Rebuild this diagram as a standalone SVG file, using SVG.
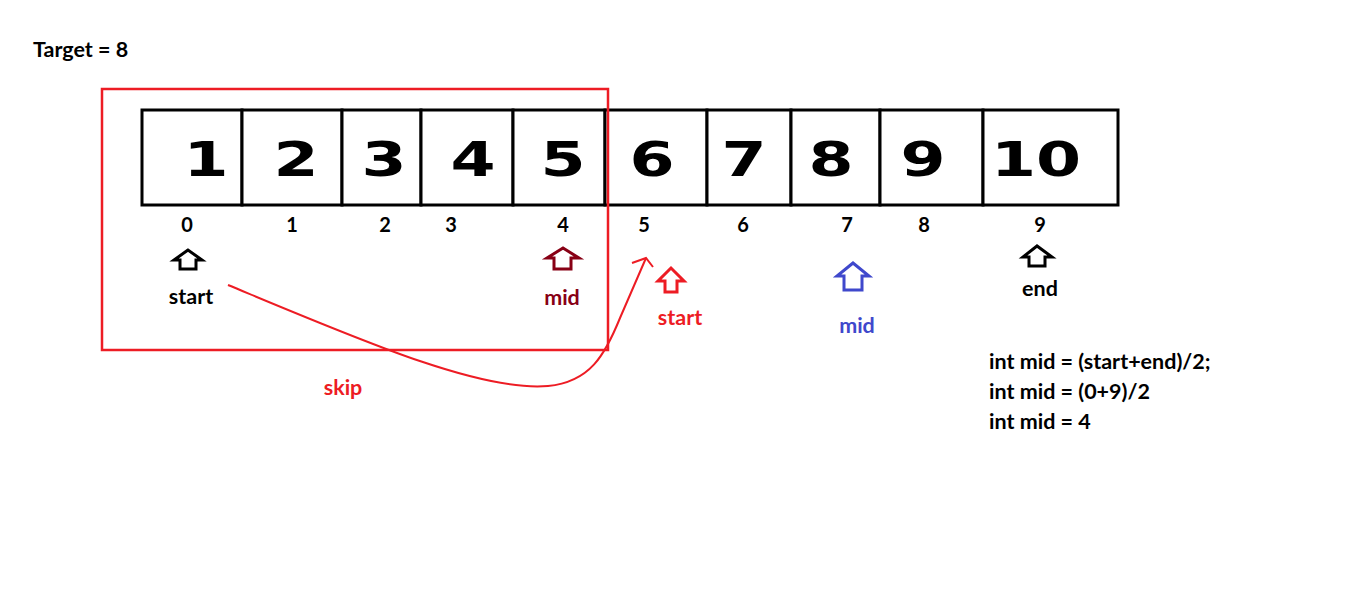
<svg xmlns="http://www.w3.org/2000/svg" width="1360" height="613" viewBox="0 0 1360 613">
<style>
.t{font-family:Lato,"Open Sans","Liberation Sans",sans-serif;font-weight:bold;font-size:21.5px}
.idx{font-family:Lato,"Open Sans","Liberation Sans",sans-serif;font-weight:bold;font-size:20px;text-anchor:middle;fill:#000}
.num{font-family:"DejaVu Sans",sans-serif;font-weight:bold;font-size:48px;text-anchor:middle;fill:#000}
.cell{fill:#fff;stroke:#000;stroke-width:3}
.arr{fill:#fff;stroke-width:3;stroke-linejoin:miter}
.c{text-anchor:middle}
</style>
<rect width="1360" height="613" fill="#fff"/>
<text class="t" x="33" y="57">Target = 8</text>
<g id="array">
<rect class="cell" x="142" y="110" width="100" height="95"/>
<rect class="cell" x="242" y="110" width="100" height="95"/>
<rect class="cell" x="342" y="110" width="79" height="95"/>
<rect class="cell" x="421" y="110" width="92" height="95"/>
<rect class="cell" x="513" y="110" width="92" height="95"/>
<rect class="cell" x="605" y="110" width="102" height="95"/>
<rect class="cell" x="707" y="110" width="84" height="95"/>
<rect class="cell" x="791" y="110" width="89" height="95"/>
<rect class="cell" x="880" y="110" width="103" height="95"/>
<rect class="cell" x="983" y="110" width="135" height="95"/>
<text class="num" transform="translate(206,176) scale(1.35,1)">1</text>
<text class="num" transform="translate(296,176) scale(1.35,1)">2</text>
<text class="num" transform="translate(384,176) scale(1.35,1)">3</text>
<text class="num" transform="translate(473,176) scale(1.35,1)">4</text>
<text class="num" transform="translate(563,176) scale(1.35,1)">5</text>
<text class="num" transform="translate(652,176) scale(1.35,1)">6</text>
<text class="num" transform="translate(744,176) scale(1.35,1)">7</text>
<text class="num" transform="translate(831,176) scale(1.35,1)">8</text>
<text class="num" transform="translate(923,176) scale(1.35,1)">9</text>
<text class="num" transform="translate(1036,176) scale(1.35,1)">10</text>
</g>
<g id="indices">
<text class="idx" x="187" y="232">0</text>
<text class="idx" x="292" y="232">1</text>
<text class="idx" x="385" y="232">2</text>
<text class="idx" x="451" y="232">3</text>
<text class="idx" x="563" y="232">4</text>
<text class="idx" x="644" y="232">5</text>
<text class="idx" x="743" y="232">6</text>
<text class="idx" x="847" y="232">7</text>
<text class="idx" x="924" y="232">8</text>
<text class="idx" x="1040" y="232">9</text>
</g>
<g id="skip-box">
<rect x="102" y="89" width="506" height="261" fill="none" stroke="#ED1C24" stroke-width="2.5"/>
</g>
<g id="start-old">
<path class="arr" stroke="#000" d="M188,250 L174,260 L180,260 L180,269 L196,269 L196,260 L202,260 Z"/>
<text class="t c" x="191" y="304" fill="#000">start</text>
</g>
<g id="mid-old">
<path class="arr" stroke="#880015" d="M563,248 L547,258 L554,258 L554,269 L571,269 L571,258 L579,258 Z"/>
<text class="t c" x="562" y="305" fill="#880015">mid</text>
</g>
<g id="start-new">
<path class="arr" stroke="#ED1C24" d="M671,268 L658,281 L665,281 L665,292 L677,292 L677,281 L684,281 Z"/>
<text class="t c" x="680" y="325" fill="#ED1C24">start</text>
</g>
<g id="mid-new">
<path class="arr" stroke="#3F48CC" d="M853,263 L837,276 L844,276 L844,290 L862,290 L862,276 L869,276 Z"/>
<text class="t c" x="857" y="333" fill="#3F48CC">mid</text>
</g>
<g id="end">
<path class="arr" stroke="#000" d="M1037,246 L1023,257 L1029,257 L1029,266 L1045,266 L1045,257 L1052,257 Z"/>
<text class="t c" x="1040" y="296" fill="#000">end</text>
</g>
<g id="connectors">
<path d="M228,285 C360,340 480,392 548,386 C590,382 605,355 620,318 C630,295 640,272 646,258" fill="none" stroke="#ED1C24" stroke-width="2"/>
<path d="M632,263 L646,258 L653,267" fill="none" stroke="#ED1C24" stroke-width="2"/>
</g>
<text class="t c" x="343" y="395" fill="#ED1C24">skip</text>
<g id="code">
<text class="t" x="989" y="369">int mid = (start+end)/2;</text>
<text class="t" x="989" y="399">int mid = (0+9)/2</text>
<text class="t" x="989" y="429">int mid = 4</text>
</g>
</svg>
